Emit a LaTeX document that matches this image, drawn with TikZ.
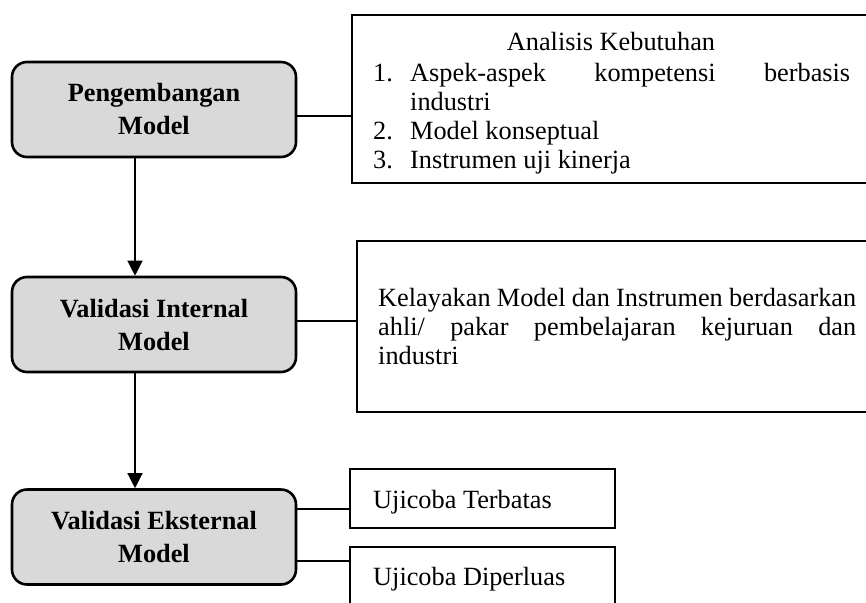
\documentclass[tikz,border=0pt]{standalone}
\usepackage{fontspec}
\setmainfont{Liberation Serif}
\usetikzlibrary{arrows.meta,calc}
\definecolor{boxgray}{RGB}{217,217,217}
\begin{document}
\begin{tikzpicture}[x=1pt,y=-1pt,
  stagebox/.style={draw, line width=2.6pt, rounded corners=15pt, fill=boxgray,
    minimum width=284pt, minimum height=95pt, inner sep=0pt, align=center,
    font=\fontsize{26.3}{33}\selectfont\bfseries},
  infobox/.style={draw, line width=2.8pt, inner sep=0pt},
  txt/.style={anchor=base west, inner sep=0pt, font=\fontsize{26.3}{30}\selectfont},
  link/.style={line width=1.3pt},
  flow/.style={line width=1.3pt, -{Triangle[length=15pt,width=15pt]}}]

\clip (0,0) rectangle (866,602);
\fill[white] (0,0) rectangle (866,602);

% left stage boxes
\node[stagebox] (pm) at (154,109.5) {Pengembangan\\Model};
\node[stagebox] (vi) at (154,324.5) {Validasi Internal\\Model};
\node[stagebox] (ve) at (154,537) {Validasi Eksternal\\Model};

% right boxes
\node[infobox, minimum width=538pt, minimum height=168pt] (ka) at (621,99) {};
\node[infobox, minimum width=533pt, minimum height=171pt] (kb) at (623.5,326.5) {};
\node[infobox, minimum width=265pt, minimum height=59pt] (kc) at (482.5,498.5) {};
\node[infobox, minimum width=265pt, minimum height=83pt] (kd) at (482.5,588.5) {};

% texts in box A
\node[txt, anchor=base] (ta0) at (611,50) {Analisis Kebutuhan};
\node[txt] (ta1n) at (373,81) {1.};
\node[txt] (ta1) at (410,81) {\makebox[440pt][s]{Aspek-aspek kompetensi berbasis}};
\node[txt] (ta1b) at (410,110) {industri};
\node[txt] (ta2n) at (373,139) {2.};
\node[txt] (ta2) at (410,139) {Model konseptual};
\node[txt] (ta3n) at (373,168) {3.};
\node[txt] (ta3) at (410,168) {Instrumen uji kinerja};

% texts in box B
\node[txt] (tb1) at (378,306) {\makebox[478pt][s]{Kelayakan Model dan Instrumen berdasarkan}};
\node[txt] (tb2) at (378,335) {\makebox[478pt][s]{ahli/ pakar pembelajaran kejuruan dan}};
\node[txt] (tb3) at (378,364) {industri};

% texts in boxes C, D
\node[txt] (tc) at (373,508) {Ujicoba Terbatas};
\node[txt] (td) at (373,585) {Ujicoba Diperluas};

% connectors
\coordinate (c1) at ($(pm.east)+(0,6.5)$);
\draw[link] (c1) -- (c1 -| ka.west);
\coordinate (c2) at ($(vi.east)+(0,-3.5)$);
\draw[link] (c2) -- (c2 -| kb.west);
\coordinate (c3) at ($(ve.east)+(0,-28)$);
\draw[link] (c3) -- (c3 -| kc.west);
\coordinate (c4) at ($(ve.east)+(0,24)$);
\draw[link] (c4) -- (c4 -| kd.west);

% arrows
\coordinate (a1) at ($(pm.south)+(-19,0)$);
\draw[flow] (a1) -- (a1 |- vi.north);
\coordinate (a2) at ($(vi.south)+(-19,0)$);
\draw[flow] (a2) -- (a2 |- ve.north);
\end{tikzpicture}
\end{document}
